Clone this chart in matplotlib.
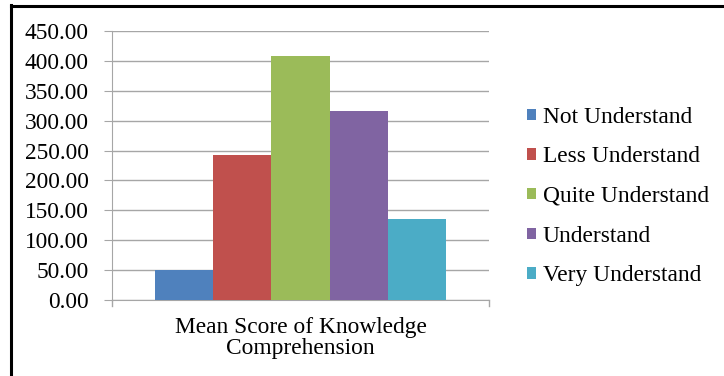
import matplotlib.pyplot as plt
from matplotlib.lines import Line2D

categories = ['Not Understand', 'Less Understand', 'Quite Understand', 'Understand', 'Very Understand']
values = [51, 242, 409, 316, 135]
colors = ['#4F81BD', '#C0504D', '#9BBB59', '#8064A2', '#4BACC6']
group_label = 'Mean Score of Knowledge\nComprehension'
yticks = [0, 50, 100, 150, 200, 250, 300, 350, 400, 450]

plt.rcParams['font.family'] = ['Liberation Serif', 'DejaVu Serif']
fs = 16.8

fig = plt.figure(figsize=(7.24, 3.76), dpi=100)
# plot area in pixels: x 112..489, y 31..300 (from top)
ax = fig.add_axes([112 / 724, (376 - 300) / 376, (489 - 112) / 724, (300 - 31) / 376])

n = len(values)
group_w = 0.77
bw = group_w / n
for i, (cat, v, c) in enumerate(zip(categories, values, colors)):
    x = -group_w / 2 + bw * (i + 0.5)
    ax.bar(x, v, width=bw, color=c, label=cat, zorder=3)

ax.set_xlim(-0.5, 0.5)
ax.set_ylim(0, 450)
ax.set_yticks(yticks)
ax.set_yticklabels(['%.2f' % t for t in yticks], fontsize=fs)
ax.set_xticks([0])
ax.set_xticklabels([group_label], fontsize=fs, linespacing=1.0)
ax.yaxis.grid(True, color='#A6A6A6', linewidth=1, zorder=0)
for s in ['top', 'right']:
    ax.spines[s].set_visible(False)
ax.spines['left'].set_color('#A6A6A6')
ax.spines['bottom'].set_color('#A6A6A6')
ax.tick_params(axis='y', length=6, color='#A6A6A6', pad=11)
ax.tick_params(axis='x', length=0, pad=12)
# small end ticks on the x axis
ax.plot([-0.5, -0.5], [0, -10], color='#A6A6A6', lw=1, clip_on=False)
ax.plot([0.5, 0.5], [0, -10], color='#A6A6A6', lw=1, clip_on=False)

ax.legend(loc='center left', bbox_to_anchor=(1.10, 0.385), frameon=False, fontsize=fs,
          handlelength=0.38, handleheight=0.38, handletextpad=0.3, labelspacing=0.8,
          borderaxespad=0, borderpad=0)

# figure frame: top and left lines
fig.add_artist(Line2D([11 / 724, 11 / 724], [0, 1 - 5 / 376], color='black', lw=2.2, transform=fig.transFigure))
fig.add_artist(Line2D([11 / 724, 1], [1 - 6 / 376, 1 - 6 / 376], color='black', lw=2.2, transform=fig.transFigure))

fig.savefig('out.png', dpi=100)
